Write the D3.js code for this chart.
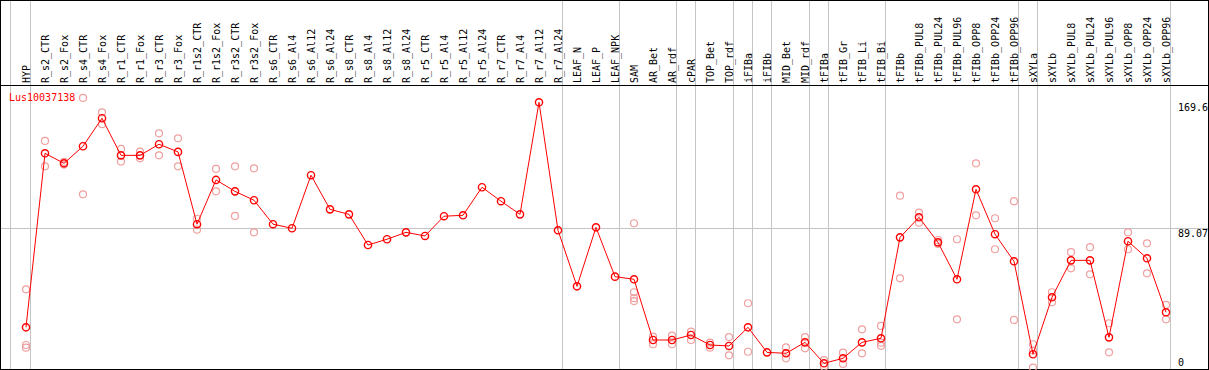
<!DOCTYPE html>
<html><head><meta charset="utf-8">
<script src="https://cdn.jsdelivr.net/npm/d3@7"></script>
<style>html,body{margin:0;padding:0;background:#fff;} svg{display:block}</style>
</head><body><svg id="c" width="1209" height="370"></svg>
<script>
const title = "Lus10037138";
const categories = ["HYP","R_s2_CTR","R_s2_Fox","R_s4_CTR","R_s4_Fox","R_r1_CTR","R_r1_Fox","R_r3_CTR","R_r3_Fox","R_r1s2_CTR","R_r1s2_Fox","R_r3s2_CTR","R_r3s2_Fox","R_s6_CTR","R_s6_Al4","R_s6_Al12","R_s6_Al24","R_s8_CTR","R_s8_Al4","R_s8_Al12","R_s8_Al24","R_r5_CTR","R_r5_Al4","R_r5_Al12","R_r5_Al24","R_r7_CTR","R_r7_Al4","R_r7_Al12","R_r7_Al24","LEAF_N","LEAF_P","LEAF_NPK","SAM","AR_Bet","AR_rdf","cPAR","TOP_Bet","TOP_rdf","iFIBa","iFIBb","MID_Bet","MID_rdf","tFIBa","tFIB_Gr","tFIB_Li","tFIB_Bi","tFIBb","tFIBb_PUL8","tFIBb_PUL24","tFIBb_PUL96","tFIBb_OPP8","tFIBb_OPP24","tFIBb_OPP96","sXYLa","sXYLb","sXYLb_PUL8","sXYLb_PUL24","sXYLb_PUL96","sXYLb_OPP8","sXYLb_OPP24","sXYLb_OPP96"];
const means = [25.8,137.0,130.6,141.5,159.4,135.7,135.7,142.8,137.9,91.7,120.0,112.7,107.0,91.7,89.1,123.0,101.2,98.0,78.4,82.1,86.5,84.2,96.8,97.4,115.3,106.4,98.0,169.6,87.8,52.0,89.7,58.2,56.5,17.7,17.7,20.9,14.5,13.9,25.8,9.8,9.2,16.2,2.8,6.0,16.2,18.8,83.3,96.1,80.1,56.5,114.0,85.3,68.0,8.6,45.0,68.6,68.6,19.4,80.8,69.9,35.4];
const replicates = [[50.1,14.5,12.8],[144.9,128.7],[131.5,129.8],[172.4,110.8],[163.2,155.6],[139.8,131.7],[138.1,133.8],[149.8,135.7],[146.6,128.7],[95.2,88.2],[127.0,112.7],[128.7,97.0],[127.4,86.5],[],[],[],[],[],[],[],[],[],[],[],[],[],[],[],[],[],[],[],[92.3,48.2,44.4,42.6],[19.8,15.0],[20.5,15.0],[23.0,17.7],[16.0,12.8],[19.6,7.9],[41.2,10.2],[],[13.0,6.0],[19.6,12.4],[4.9,0.6],[9.6,2.4],[24.5,9.2],[26.7,16.0,14.0],[109.9,57.1],[99.1,92.7],[81.6,79.1],[82.1,30.9],[130.6,97.4],[95.5,75.7],[106.4,30.5],[15.0,11.0,0],[48.2,41.8],[73.8,63.5],[77.0,59.7],[28.4,9.8],[86.5,75.7],[79.5,60.3],[40.1,30.9]];
const groupEnds = ["HYP","R_r7_Al24","LEAF_NPK","AR_rdf","cPAR","TOP_rdf","iFIBa","iFIBb","MID_rdf","tFIBa","tFIB_Bi","tFIBb_OPP96","sXYLa","sXYLb_OPP96"];
const yTickValues = [0, 89.07, 169.6];
const yTickLabels = ["0", "89.07", "169.6"];
const gridValues = [89.07];

const W = 1209, H = 370;
const svg = d3.select("#c");
const font = "'DejaVu Sans Mono', 'Liberation Mono', monospace";
const x = d3.scalePoint().domain(categories).range([26, 1166]);
const step = x.step();
const y = d3.scaleLinear().domain([0, 169.6]).range([367.7, 102.3]);

// vertical group separators
const vx = [x(categories[0]) - step + 3].concat(groupEnds.map(c => x(c) + 4));
svg.append("g").selectAll("line").data(vx).join("line")
  .attr("x1", d => Math.round(d) + 0.5).attr("x2", d => Math.round(d) + 0.5)
  .attr("y1", 0).attr("y2", H)
  .attr("stroke", "#c4c4c4").attr("stroke-width", 1);

// horizontal grid
svg.append("g").selectAll("line").data(gridValues).join("line")
  .attr("x1", 0).attr("x2", W)
  .attr("y1", d => Math.round(y(d)) + 0.5).attr("y2", d => Math.round(y(d)) + 0.5)
  .attr("stroke", "#c4c4c4").attr("stroke-width", 1);

// frame and header separator
svg.append("rect").attr("x", 0.5).attr("y", 0.5).attr("width", W - 1).attr("height", H - 1)
  .attr("fill", "none").attr("stroke", "#000").attr("stroke-width", 1);
svg.append("line").attr("x1", 0).attr("x2", W).attr("y1", 85.5).attr("y2", 85.5)
  .attr("stroke", "#000").attr("stroke-width", 1);

// category labels
svg.append("g").selectAll("text").data(categories).join("text")
  .attr("transform", d => `translate(${x(d)},83) rotate(-90)`)
  .attr("text-anchor", "start").attr("dy", "0.35em")
  .attr("font-family", font).attr("font-size", 10).attr("fill", "#000")
  .text(d => d);

// right axis labels
svg.append("g").selectAll("text").data(yTickValues).join("text")
  .attr("x", 1178).attr("y", d => Math.min(y(d) + 8.3, 366))
  .attr("font-family", font).attr("font-size", 10).attr("fill", "#000")
  .text((d, i) => yTickLabels[i]);

// replicates
const repPts = [];
replicates.forEach((arr, i) => arr.forEach(v => repPts.push({c: categories[i], v})));
svg.append("g").selectAll("circle").data(repPts).join("circle")
  .attr("cx", d => x(d.c)).attr("cy", d => y(d.v)).attr("r", 3.5)
  .attr("fill", "none").attr("stroke", "#f0a0a0").attr("stroke-width", 1.2);

// mean line
svg.append("path").datum(means)
  .attr("d", d3.line().x((d, i) => x(categories[i])).y(d => y(d)))
  .attr("fill", "none").attr("stroke", "#ff0000").attr("stroke-width", 1);

// mean markers
svg.append("g").selectAll("circle").data(means).join("circle")
  .attr("cx", (d, i) => x(categories[i])).attr("cy", d => y(d)).attr("r", 3.6)
  .attr("fill", "none").attr("stroke", "#ff0000").attr("stroke-width", 1.4);

// title
svg.append("text").attr("x", 9).attr("y", 101)
  .attr("font-family", font).attr("font-size", 10).attr("fill", "#ff0000")
  .text(title);
</script>
</body></html>
